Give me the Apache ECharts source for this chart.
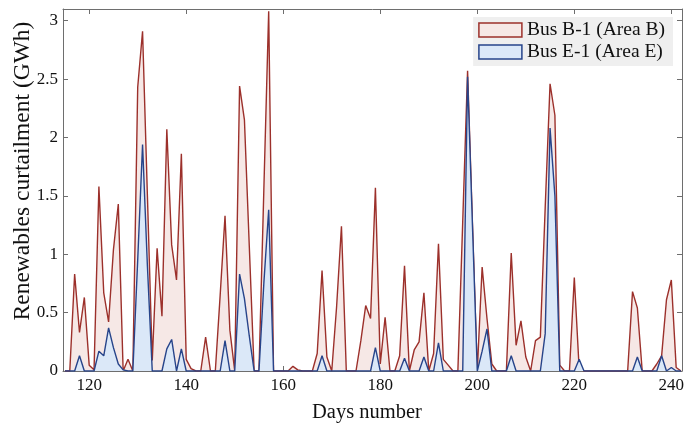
<!DOCTYPE html>
<html>
<head>
<meta charset="utf-8">
<script src="https://cdn.jsdelivr.net/npm/echarts@6/dist/echarts.min.js"></script>
<style>
html,body{margin:0;padding:0;background:#fff;}
#chart{width:698px;height:425px;}
</style>
</head>
<body>
<div id="chart"></div>
<script>
// ---- data ----
const firstDay = 115;
const busB = [
  0, 0, 0.83, 0.33, 0.63, 0.05, 0.01, 1.58, 0.67, 0.42,
  1.04, 1.43, 0, 0.1, 0, 2.43, 2.91, 1.5, 0.09, 1.05,
  0.47, 2.07, 1.08, 0.78, 1.86, 0.1, 0.02, 0, 0, 0.29,
  0, 0, 0.65, 1.33, 0.35, 0, 2.44, 2.15, 1.07, 0,
  0, 1.55, 3.08, 0, 0, 0, 0, 0.04, 0.01, 0,
  0, 0, 0.15, 0.86, 0.12, 0, 0.55, 1.24, 0, 0,
  0, 0.26, 0.56, 0.45, 1.57, 0.06, 0.46, 0, 0, 0.13,
  0.9, 0, 0.18, 0.25, 0.67, 0, 0.15, 1.09, 0.1, 0.05,
  0, 0, 1.28, 2.57, 1.27, 0, 0.89, 0.45, 0.06, 0,
  0, 0, 1.01, 0.22, 0.43, 0.12, 0, 0.26, 0.29, 1.4,
  2.46, 2.19, 0.05, 0, 0, 0.8, 0.02, 0, 0, 0,
  0, 0, 0, 0, 0, 0, 0, 0.68, 0.54, 0,
  0, 0, 0.06, 0.13, 0.61, 0.78, 0.03, 0
];
const busE = [
  0, 0, 0, 0.13, 0, 0, 0, 0.17, 0.13, 0.37,
  0.2, 0.06, 0.01, 0, 0, 0.95, 1.94, 0.9, 0, 0,
  0, 0.19, 0.27, 0, 0.19, 0, 0, 0, 0, 0,
  0, 0, 0, 0.26, 0, 0, 0.83, 0.62, 0.3, 0,
  0, 0.75, 1.38, 0, 0, 0, 0, 0, 0, 0,
  0, 0, 0, 0.13, 0, 0, 0, 0, 0, 0,
  0, 0, 0, 0, 0.2, 0, 0, 0, 0, 0,
  0.11, 0, 0, 0, 0.12, 0, 0, 0.24, 0, 0,
  0, 0, 0, 2.52, 1.25, 0, 0.17, 0.36, 0, 0,
  0, 0, 0.13, 0, 0, 0, 0, 0, 0, 0.32,
  2.08, 1.5, 0, 0, 0, 0, 0.1, 0, 0, 0,
  0, 0, 0, 0, 0, 0, 0, 0, 0.12, 0,
  0, 0, 0, 0.13, 0, 0.03, 0, 0
];
const seriesNames = ['Bus B-1 (Area B)', 'Bus E-1 (Area E)'];
const xTicks = [120, 140, 160, 180, 200, 220, 240];
const yTicks = [0, 0.5, 1, 1.5, 2, 2.5, 3];
const xTitle = 'Days number';
const yTitle = 'Renewables curtailment (GWh)';

// ---- chart ----
const days = busB.map((_, i) => firstDay + i);
const pairs = vals => vals.map((v, i) => [days[i], v]);

const FONT = 'Liberation Serif';
const AXIS_COLOR = '#6e6e6e';
const RED = '#9c302b', RED_FILL = '#f6e8e6';
const BLUE = '#27448a', BLUE_FILL = '#dbe8f8';

const xBase = {
  type: 'value', min: 114.6, max: 242.2,
  splitLine: {show: false},
  axisLine: {show: true, onZero: false, lineStyle: {color: AXIS_COLOR, width: 1}},
  axisTick: {show: true, inside: true, length: 5, customValues: xTicks, lineStyle: {color: AXIS_COLOR}},
};
const yBase = {
  type: 'value', min: 0, max: 3.1,
  splitLine: {show: false},
  axisLine: {show: true, onZero: false, lineStyle: {color: AXIS_COLOR, width: 1}},
  axisTick: {show: true, inside: true, length: 5, customValues: yTicks, lineStyle: {color: AXIS_COLOR}},
};

const chart = echarts.init(document.getElementById('chart'), null, {renderer: 'canvas'});
chart.setOption({
  animation: false,
  backgroundColor: '#fff',
  grid: {left: 63, right: 16, top: 9, bottom: 54, containLabel: false, outerBoundsMode: 'none'},
  legend: {
    right: 25, top: 17,
    orient: 'vertical',
    backgroundColor: '#efefef',
    padding: [3, 8, 4, 5],
    itemWidth: 43, itemHeight: 14, itemGap: 2,
    textStyle: {fontFamily: FONT, fontSize: 19.5, color: '#111'},
    data: [
      {name: seriesNames[0], icon: 'rect', itemStyle: {color: RED_FILL, borderColor: RED, borderWidth: 1.5}},
      {name: seriesNames[1], icon: 'rect', itemStyle: {color: BLUE_FILL, borderColor: BLUE, borderWidth: 1.5}}
    ]
  },
  xAxis: [
    Object.assign({}, xBase, {
      position: 'bottom',
      name: xTitle, nameLocation: 'middle', nameGap: 31,
      nameTextStyle: {fontFamily: FONT, fontSize: 20.5, color: '#111', padding: [0, 11, 0, 0]},
      axisLabel: {show: true, customValues: xTicks, margin: 6, fontFamily: FONT, fontSize: 17, color: '#111'}
    }),
    Object.assign({}, xBase, {position: 'top', axisLabel: {show: false}})
  ],
  yAxis: [
    Object.assign({}, yBase, {
      position: 'left',
      name: yTitle, nameLocation: 'middle', nameGap: 28, nameRotate: 90,
      nameMoveOverlap: false,
      nameTextStyle: {fontFamily: FONT, fontSize: 23.5, color: '#111', padding: [0, 0, 0, 38]},
      axisLabel: {show: true, customValues: yTicks, margin: 5, fontFamily: FONT, fontSize: 17, color: '#111'}
    }),
    Object.assign({}, yBase, {position: 'right', axisLabel: {show: false}})
  ],
  series: [
    {
      name: seriesNames[0], type: 'line', data: pairs(busB),
      xAxisIndex: 0, yAxisIndex: 0,
      symbol: 'none', smooth: false,
      lineStyle: {color: RED, width: 1.4},
      itemStyle: {color: RED_FILL, borderColor: RED},
      areaStyle: {color: RED_FILL, opacity: 1},
      z: 2
    },
    {
      name: seriesNames[1], type: 'line', data: pairs(busE),
      xAxisIndex: 0, yAxisIndex: 0,
      symbol: 'none', smooth: false,
      lineStyle: {color: BLUE, width: 1.4},
      itemStyle: {color: BLUE_FILL, borderColor: BLUE},
      areaStyle: {color: BLUE_FILL, opacity: 1},
      z: 3
    }
  ]
});
</script>
</body>
</html>
